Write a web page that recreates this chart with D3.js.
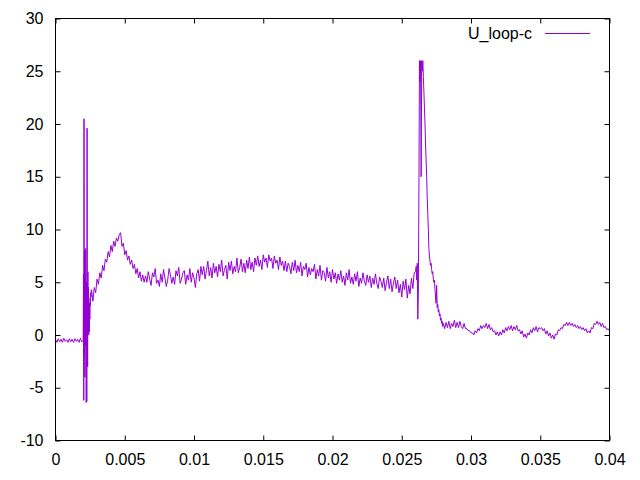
<!DOCTYPE html>
<html>
<head>
<meta charset="utf-8">
<script src="https://cdn.jsdelivr.net/npm/d3@7"></script>
<style>
  html, body { margin: 0; padding: 0; background: #fff; }
  svg { display: block; }
  text { font-family: "Liberation Sans", Arial, sans-serif; font-size: 16px; fill: #000; }
</style>
</head>
<body>
<svg id="chart" width="640" height="480"></svg>
<script>
// ---- data ----
const seriesName = "U_loop-c";
const xTickValues = [0, 0.005, 0.01, 0.015, 0.02, 0.025, 0.03, 0.035, 0.04];
const xTickLabels = ["0", "0.005", "0.01", "0.015", "0.02", "0.025", "0.03", "0.035", "0.04"];
const yTickValues = [-10, -5, 0, 5, 10, 15, 20, 25, 30];
const yTickLabels = ["-10", "-5", "0", "5", "10", "15", "20", "25", "30"];

// sampled segments: start time, sample interval, values
const segStart = [0, 0.00202, 0.0027, 0.02604, 0.0281];
const segStep = [0.0001, 0.00002, 0.0001, 0.00004, 0.0001];

const segBaseline = [-0.4,-0.7,-0.35,-0.65,-0.4,-0.7,-0.3,-0.6,-0.45,-0.7,-0.35,-0.65,-0.4,-0.7,-0.35,-0.6,-0.4,-0.7,-0.3,-0.65,-0.5];

const segSpikes = [5.8,-6.2,20.5,-2,8,-4,6,-1,8.2,0,-6.4,5,-6.3,19.6,3,-3,6,0.5,4.5,0,2,0.3,3,1.5,3.5,2.8,4,3.6,4.2,4.3];

const segPlateau = [
  3.2,4.5,4.0,5.3,4.8,5.9,5.4,6.6,6.1,7.2,6.9,7.9,7.4,8.5,7.9,8.9,8.4,9.2,8.9,9.5,
  9.7,8.4,8.7,7.6,8.0,7.1,7.5,6.7,7.1,6.3,6.7,5.8,6.3,5.4,6.0,5.1,5.7,5.0,5.6,
  5.0,6.0,5.3,4.7,5.9,5.5,6.3,4.9,5.2,4.6,
  5.8,5.0,6.2,5.4,4.6,5.2,6.3,5.7,4.9,5.5,
  4.8,6.1,5.6,6.4,4.9,5.3,5.9,6.1,4.8,5.7,
  5.2,6.3,5.0,5.9,5.4,4.5,5.8,6.2,5.1,6.5,
  5.7,6.5,5.3,6.1,7.0,5.6,6.4,5.4,6.8,5.9,
  6.5,5.5,6.7,6.0,7.1,5.6,6.2,6.6,5.3,6.9,
  6.1,7.0,5.8,6.5,6.0,7.3,5.9,6.4,7.2,6.0,
  6.8,5.9,7.1,6.3,7.4,6.2,6.9,6.0,7.3,6.6,
  7.5,6.5,7.1,6.2,7.6,6.9,7.3,6.4,7.6,7.0,
  7.3,6.3,7.5,6.8,7.1,6.2,7.4,6.6,7.0,6.1,
  7.0,6.0,6.8,6.5,5.8,6.9,6.1,7.1,5.9,6.6,
  6.0,6.9,5.6,6.5,6.2,6.8,5.5,6.4,5.7,6.3,
  6.0,6.7,5.3,6.2,5.6,6.6,5.2,6.1,5.9,5.1,
  6.4,5.4,6.0,5.0,6.2,5.3,5.9,4.9,5.8,5.2,
  6.1,5.0,5.6,4.7,5.9,5.2,6.2,4.9,5.5,4.8,
  5.8,5.1,6.0,4.6,5.4,4.9,5.9,5.1,4.7,5.7,
  5.0,5.6,4.5,5.4,4.8,5.8,4.9,4.4,5.5,5.1,
  4.5,5.4,4.2,5.0,5.6,4.4,5.3,4.1,4.9,5.5,
  4.4,5.2,4.0,4.8,3.6,5.1,4.3,5.3,3.5,4.7,
  3.9,5.4,4.4,5.9,6.0
];

const segPulse = [
  6.5,5.2,6.8,1.5,4.0,14,26,24,26,15,26,25,26,24.5,23,21.5,20,18,16.5,15,
  13,11.5,10,8.2,7.4,7.0,6.6,6.8,6.2,5.8,6.0,5.3,5.0,5.2,4.3,3.6,3.0,4.7,2.6,2.9,
  2.2,2.4,1.8,2.0,1.4,1.6,1.1,1.3,0.8,1.1
];

const segTail = [
  0.6,1.2,0.7,1.3,0.6,1.1,0.8,1.4,0.7,1.2,
  0.7,1.3,0.8,0.6,1.1,0.6,0.6,0.4,0.4,0.2,
  0.2,0.0,0.4,0.2,0.6,0.4,0.9,0.6,0.9,0.7,
  1.1,0.6,1.0,0.5,0.7,0.3,0.4,0.0,0.3,-0.1,
  0.3,0.0,0.5,0.2,0.7,0.4,0.8,0.5,0.9,0.4,
  0.8,0.5,0.9,0.4,0.5,0.1,0.4,-0.2,0.1,-0.3,
  0.2,0.0,0.5,0.2,0.7,0.4,0.8,0.3,0.7,0.6,
  0.7,0.4,0.6,0.1,0.4,-0.1,0.2,-0.3,0.0,-0.4,
  0.1,0.0,0.5,0.4,0.7,0.6,1.0,0.9,1.2,0.9,
  1.2,0.9,1.1,0.8,1.0,0.7,0.9,0.6,0.8,0.5,
  0.7,0.4,0.6,0.2,0.4,0.2,0.7,0.6,1.1,1.0,
  1.3,1.0,1.2,0.8,1.1,0.7,0.8,0.5,0.6,0.4
];

const segValues = [segBaseline, segSpikes, segPlateau, segPulse, segTail];

(function () {
  // ---- build points ----
  const points = [];
  segValues.forEach((vals, s) => {
    vals.forEach((v, i) => points.push([segStart[s] + i * segStep[s], v]));
  });

  // ---- layout ----
  const svg = d3.select("#chart");
  const pl = 55.5, pr = 609.5, pt = 18.5, pb = 440.5;
  const color = "#9400d3";

  const x = d3.scaleLinear().domain([0, 0.04]).range([pl, pr]);
  const y = d3.scaleLinear().domain([-10, 30]).range([pb, pt]);

  svg.append("defs").append("clipPath").attr("id", "clip")
    .append("rect").attr("x", pl).attr("y", pt)
    .attr("width", pr - pl).attr("height", pb - pt);

  const tickLen = 5;
  const styleAxis = g => {
    g.select(".domain").remove();
    g.selectAll(".tick line").attr("stroke", "#000").attr("stroke-width", 1);
    g.selectAll("text").style("font-family", '"Liberation Sans", Arial, sans-serif').style("font-size", "16px").attr("fill", "#000");
  };

  svg.append("g").attr("transform", `translate(0,${pb})`)
    .call(d3.axisBottom(x).tickValues(xTickValues).tickSize(-tickLen).tickPadding(13)
      .tickFormat((d, i) => xTickLabels[i]))
    .call(styleAxis);
  svg.append("g").attr("transform", `translate(0,${pt})`)
    .call(d3.axisTop(x).tickValues(xTickValues).tickSize(-tickLen).tickFormat(""))
    .call(styleAxis);
  svg.append("g").attr("transform", `translate(${pl},0)`)
    .call(d3.axisLeft(y).tickValues(yTickValues).tickSize(-tickLen).tickPadding(12)
      .tickFormat((d, i) => yTickLabels[i]))
    .call(styleAxis);
  svg.append("g").attr("transform", `translate(${pr},0)`)
    .call(d3.axisRight(y).tickValues(yTickValues).tickSize(-tickLen).tickFormat(""))
    .call(styleAxis);

  // data line
  svg.append("path")
    .datum(points)
    .attr("clip-path", "url(#clip)")
    .attr("fill", "none")
    .attr("stroke", color)
    .attr("stroke-width", 1)
    .attr("d", d3.line().x(d => x(d[0])).y(d => y(d[1])));

  // border
  svg.append("rect").attr("x", pl).attr("y", pt)
    .attr("width", pr - pl).attr("height", pb - pt)
    .attr("fill", "none").attr("stroke", "#000").attr("stroke-width", 1);

  // legend
  const legY = 33.5;
  svg.append("text").attr("x", 532).attr("y", legY).attr("dy", "0.35em")
    .attr("text-anchor", "end").text(seriesName);
  svg.append("line").attr("x1", 545).attr("x2", 590).attr("y1", legY).attr("y2", legY)
    .attr("stroke", color).attr("stroke-width", 1);
})();
</script>
</body>
</html>
